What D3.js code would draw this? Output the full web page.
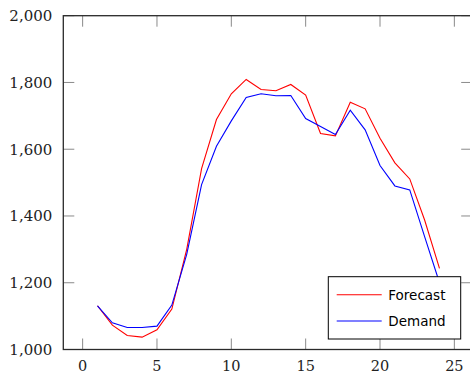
<!DOCTYPE html>
<html>
<head>
<meta charset="utf-8">
<script src="https://cdn.jsdelivr.net/npm/d3@7"></script>
<style>
  html, body { margin: 0; padding: 0; background: #fff; }
  svg { display: block; }
</style>
</head>
<body>
<svg id="chart" width="470" height="373"></svg>
<script>
const hours = [1,2,3,4,5,6,7,8,9,10,11,12,13,14,15,16,17,18,19,20,21,22,23,24];
const forecast = [1131,1073,1042,1037,1059,1121,1300,1542,1689,1766,1809,1779,1775,1794,1762,1647,1640,1741,1721,1633,1559,1511,1388,1243];
const demand = [1131,1080,1066,1066,1070,1133,1285,1494,1609,1685,1755,1766,1760,1761,1692,1668,1644,1717,1658,1551,1490,1478,1338,1200];
const xTicks = [0,5,10,15,20,25];
const yTicks = [1000,1200,1400,1600,1800,2000];
const seriesNames = ["Forecast","Demand"];
const seriesColors = ["#ff0000","#0000ff"];

const svg = d3.select("#chart");
const x = d3.scaleLinear().domain([-1.3, 26.2]).range([63.3, 472.2]);
const y = d3.scaleLinear().domain([1000, 2000]).range([349.5, 15.7]);

const fmt = d3.format(",");
const serif = "'DejaVu Serif', serif";
const tickLen = 11;

// ticks (inward, mirrored)
const tg = svg.append("g").attr("stroke", "#8a8a8a").attr("stroke-width", 1);
xTicks.forEach(t => {
  tg.append("line").attr("x1", x(t)).attr("x2", x(t)).attr("y1", y(1000)).attr("y2", y(1000) - tickLen);
  tg.append("line").attr("x1", x(t)).attr("x2", x(t)).attr("y1", y(2000)).attr("y2", y(2000) + tickLen);
});
yTicks.forEach(t => {
  tg.append("line").attr("x1", x(-1.3)).attr("x2", x(-1.3) + tickLen).attr("y1", y(t)).attr("y2", y(t));
  tg.append("line").attr("x1", x(26.2)).attr("x2", x(26.2) - tickLen).attr("y1", y(t)).attr("y2", y(t));
});

// frame
svg.append("rect")
  .attr("x", x(-1.3)).attr("y", y(2000))
  .attr("width", x(26.2) - x(-1.3)).attr("height", y(1000) - y(2000))
  .attr("fill", "none").attr("stroke", "#2a2a2a").attr("stroke-width", 1.3);

// tick labels
svg.append("g").selectAll("text").data(xTicks).join("text")
  .attr("x", d => x(d)).attr("y", y(1000) + 21)
  .attr("text-anchor", "middle")
  .attr("font-family", serif).attr("font-size", 14.5).attr("fill", "#222")
  .text(d => d);
svg.append("g").selectAll("text").data(yTicks).join("text")
  .attr("x", x(-1.3) - 11).attr("y", d => y(d) + 5.3)
  .attr("text-anchor", "end")
  .attr("font-family", serif).attr("font-size", 15).attr("fill", "#222")
  .text(d => fmt(d));

// lines
const line = d3.line().x((d, i) => x(hours[i])).y(d => y(d));
[forecast, demand].forEach((s, k) => {
  svg.append("path").datum(s)
    .attr("d", line)
    .attr("fill", "none")
    .attr("stroke", seriesColors[k])
    .attr("stroke-width", 1.1)
    .attr("stroke-linejoin", "miter");
});

// legend
const lg = svg.append("g");
lg.append("rect").attr("x", 328.3).attr("y", 276.7).attr("width", 132.4).attr("height", 62.3)
  .attr("fill", "#fff").attr("stroke", "#000").attr("stroke-width", 1);
seriesNames.forEach((n, k) => {
  const yy = 294.7 + k * 26.3;
  lg.append("line").attr("x1", 336.7).attr("x2", 381.7).attr("y1", yy).attr("y2", yy)
    .attr("stroke", seriesColors[k]).attr("stroke-width", 1.1);
  lg.append("text").attr("x", 388.3).attr("y", yy + 4.8)
    .attr("font-family", "'DejaVu Sans', sans-serif").attr("font-size", 13.5).attr("fill", "#000")
    .text(n);
});
</script>
</body>
</html>
